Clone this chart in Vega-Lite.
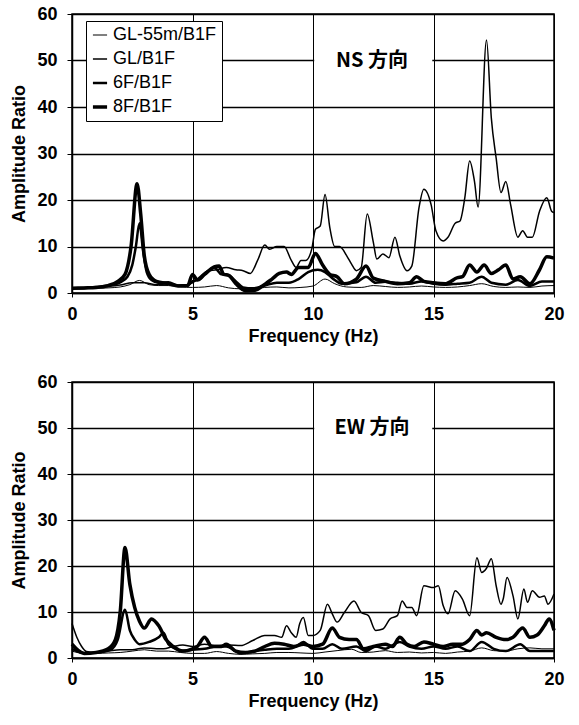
{
  "$schema": "https://vega.github.io/schema/vega-lite/v6.json",
  "background": "white",
  "padding": {"left": 10, "top": 4, "right": 18, "bottom": 5},
  "spacing": 26,
  "config": {
    "view": {"stroke": "black", "strokeWidth": 1.5},
    "font": "Liberation Sans",
    "axis": {
      "domainColor": "black", "domainWidth": 1.5, "tickColor": "black", "gridColor": "black", "gridOpacity": 1,
      "labelFont": "Liberation Sans", "labelFontSize": 18, "labelFontWeight": "bold", "labelColor": "black",
      "titleFont": "Liberation Sans", "titleFontSize": 18, "titleFontWeight": "bold", "titleColor": "black"
    },
    "legend": {
      "orient": "none", "legendX": 14, "legendY": 7, "title": null,
      "strokeColor": "black", "fillColor": "white", "padding": 5, "cornerRadius": 0,
      "labelFont": "Liberation Sans", "labelFontSize": 18, "labelColor": "black", "labelFontWeight": "normal",
      "symbolType": "stroke", "symbolSize": 200, "symbolStrokeColor": "black", "rowPadding": 6, "labelOffset": 4
    }
  },
  "datasets": {
    "ns": [
      {"s":"GL-55m/B1F","f":0,"a":0.8},{"s":"GL-55m/B1F","f":0.5,"a":0.9},{"s":"GL-55m/B1F","f":1,"a":1},{"s":"GL-55m/B1F","f":1.5,"a":1.1},{"s":"GL-55m/B1F","f":2,"a":1.3},{"s":"GL-55m/B1F","f":2.4,"a":1.8},{"s":"GL-55m/B1F","f":2.8,"a":2.7},{"s":"GL-55m/B1F","f":3.2,"a":1.8},{"s":"GL-55m/B1F","f":3.6,"a":1.6},{"s":"GL-55m/B1F","f":4,"a":1.6},{"s":"GL-55m/B1F","f":4.5,"a":1.3},{"s":"GL-55m/B1F","f":5,"a":1.2},{"s":"GL-55m/B1F","f":5.5,"a":1.3},{"s":"GL-55m/B1F","f":6,"a":1.6},{"s":"GL-55m/B1F","f":6.5,"a":1.1},{"s":"GL-55m/B1F","f":7,"a":0.9},{"s":"GL-55m/B1F","f":7.5,"a":0.9},{"s":"GL-55m/B1F","f":8,"a":1.2},{"s":"GL-55m/B1F","f":8.5,"a":1.3},{"s":"GL-55m/B1F","f":9,"a":1.1},{"s":"GL-55m/B1F","f":9.5,"a":1.2},{"s":"GL-55m/B1F","f":10,"a":1.5},{"s":"GL-55m/B1F","f":10.5,"a":3},{"s":"GL-55m/B1F","f":10.9,"a":2},{"s":"GL-55m/B1F","f":11.4,"a":1.3},{"s":"GL-55m/B1F","f":12,"a":1.2},{"s":"GL-55m/B1F","f":12.5,"a":1.6},{"s":"GL-55m/B1F","f":13,"a":1.4},{"s":"GL-55m/B1F","f":13.5,"a":1.2},{"s":"GL-55m/B1F","f":14,"a":1.3},{"s":"GL-55m/B1F","f":14.5,"a":1.5},{"s":"GL-55m/B1F","f":15,"a":1.3},{"s":"GL-55m/B1F","f":15.5,"a":1.2},{"s":"GL-55m/B1F","f":16,"a":1.3},{"s":"GL-55m/B1F","f":16.5,"a":1.6},{"s":"GL-55m/B1F","f":17,"a":2},{"s":"GL-55m/B1F","f":17.5,"a":1.4},{"s":"GL-55m/B1F","f":18,"a":1.2},{"s":"GL-55m/B1F","f":18.5,"a":1.3},{"s":"GL-55m/B1F","f":19,"a":1.2},{"s":"GL-55m/B1F","f":19.5,"a":1.5},{"s":"GL-55m/B1F","f":20,"a":1.6},

      {"s":"GL/B1F","f":0,"a":1},{"s":"GL/B1F","f":0.5,"a":1.1},{"s":"GL/B1F","f":1,"a":1.2},{"s":"GL/B1F","f":1.5,"a":1.4},{"s":"GL/B1F","f":2,"a":1.7},{"s":"GL/B1F","f":2.5,"a":2.2},{"s":"GL/B1F","f":3,"a":2.2},{"s":"GL/B1F","f":3.5,"a":1.8},{"s":"GL/B1F","f":4,"a":2},{"s":"GL/B1F","f":4.5,"a":1.6},{"s":"GL/B1F","f":5,"a":2.2},{"s":"GL/B1F","f":5.3,"a":3.5},{"s":"GL/B1F","f":5.6,"a":4.7},{"s":"GL/B1F","f":6,"a":5},{"s":"GL/B1F","f":6.4,"a":5.5},{"s":"GL/B1F","f":6.8,"a":5},{"s":"GL/B1F","f":7.1,"a":4.8},{"s":"GL/B1F","f":7.4,"a":4.2},{"s":"GL/B1F","f":7.7,"a":7},{"s":"GL/B1F","f":8,"a":10.3},{"s":"GL/B1F","f":8.2,"a":9.4},{"s":"GL/B1F","f":8.5,"a":10},{"s":"GL/B1F","f":8.8,"a":10},{"s":"GL/B1F","f":9.1,"a":7},{"s":"GL/B1F","f":9.3,"a":5.5},{"s":"GL/B1F","f":9.5,"a":7},{"s":"GL/B1F","f":9.7,"a":7},{"s":"GL/B1F","f":9.95,"a":9.5},{"s":"GL/B1F","f":10.1,"a":13.7},{"s":"GL/B1F","f":10.3,"a":14.4},{"s":"GL/B1F","f":10.5,"a":21.2},{"s":"GL/B1F","f":10.7,"a":14},{"s":"GL/B1F","f":10.9,"a":10},{"s":"GL/B1F","f":11.1,"a":10},{"s":"GL/B1F","f":11.4,"a":8},{"s":"GL/B1F","f":11.6,"a":6.2},{"s":"GL/B1F","f":11.8,"a":4.8},{"s":"GL/B1F","f":12,"a":5.5},{"s":"GL/B1F","f":12.25,"a":17},{"s":"GL/B1F","f":12.5,"a":11},{"s":"GL/B1F","f":12.65,"a":7.3},{"s":"GL/B1F","f":12.9,"a":8.4},{"s":"GL/B1F","f":13.15,"a":7.6},{"s":"GL/B1F","f":13.4,"a":12},{"s":"GL/B1F","f":13.6,"a":8},{"s":"GL/B1F","f":13.9,"a":4.8},{"s":"GL/B1F","f":14.1,"a":5.8},{"s":"GL/B1F","f":14.4,"a":18.4},{"s":"GL/B1F","f":14.6,"a":22.3},{"s":"GL/B1F","f":14.9,"a":19},{"s":"GL/B1F","f":15.1,"a":13.4},{"s":"GL/B1F","f":15.4,"a":11.2},{"s":"GL/B1F","f":15.6,"a":12},{"s":"GL/B1F","f":15.9,"a":15},{"s":"GL/B1F","f":16.1,"a":15.5},{"s":"GL/B1F","f":16.3,"a":20.5},{"s":"GL/B1F","f":16.5,"a":28.4},{"s":"GL/B1F","f":16.7,"a":24},{"s":"GL/B1F","f":16.85,"a":18.5},{"s":"GL/B1F","f":17.2,"a":54.4},{"s":"GL/B1F","f":17.4,"a":37.6},{"s":"GL/B1F","f":17.6,"a":29},{"s":"GL/B1F","f":17.8,"a":21.6},{"s":"GL/B1F","f":18,"a":24},{"s":"GL/B1F","f":18.2,"a":19},{"s":"GL/B1F","f":18.5,"a":12},{"s":"GL/B1F","f":18.7,"a":13.4},{"s":"GL/B1F","f":18.9,"a":12},{"s":"GL/B1F","f":19.1,"a":12},{"s":"GL/B1F","f":19.4,"a":17.6},{"s":"GL/B1F","f":19.7,"a":20.5},{"s":"GL/B1F","f":19.9,"a":17.6},{"s":"GL/B1F","f":20,"a":17.3},

      {"s":"6F/B1F","f":0,"a":1},{"s":"6F/B1F","f":0.5,"a":1.1},{"s":"6F/B1F","f":1,"a":1.3},{"s":"6F/B1F","f":1.5,"a":1.6},{"s":"6F/B1F","f":2,"a":2.3},{"s":"6F/B1F","f":2.3,"a":3.5},{"s":"6F/B1F","f":2.5,"a":6},{"s":"6F/B1F","f":2.65,"a":10},{"s":"6F/B1F","f":2.8,"a":15},{"s":"6F/B1F","f":2.95,"a":9},{"s":"6F/B1F","f":3.1,"a":4.5},{"s":"6F/B1F","f":3.3,"a":2.8},{"s":"6F/B1F","f":3.6,"a":2.2},{"s":"6F/B1F","f":4,"a":2.3},{"s":"6F/B1F","f":4.4,"a":1.6},{"s":"6F/B1F","f":4.8,"a":1.6},{"s":"6F/B1F","f":5,"a":2.5},{"s":"6F/B1F","f":5.3,"a":3},{"s":"6F/B1F","f":5.6,"a":4.5},{"s":"6F/B1F","f":5.9,"a":5.5},{"s":"6F/B1F","f":6.2,"a":4},{"s":"6F/B1F","f":6.5,"a":3.8},{"s":"6F/B1F","f":6.8,"a":2.5},{"s":"6F/B1F","f":7.1,"a":1.2},{"s":"6F/B1F","f":7.5,"a":1},{"s":"6F/B1F","f":8,"a":1.6},{"s":"6F/B1F","f":8.5,"a":2.2},{"s":"6F/B1F","f":9,"a":2.2},{"s":"6F/B1F","f":9.4,"a":3},{"s":"6F/B1F","f":9.8,"a":4.5},{"s":"6F/B1F","f":10.2,"a":5},{"s":"6F/B1F","f":10.5,"a":4.5},{"s":"6F/B1F","f":10.8,"a":3.2},{"s":"6F/B1F","f":11.2,"a":2},{"s":"6F/B1F","f":11.8,"a":2.3},{"s":"6F/B1F","f":12.2,"a":3.5},{"s":"6F/B1F","f":12.6,"a":2.2},{"s":"6F/B1F","f":13,"a":2.4},{"s":"6F/B1F","f":13.5,"a":2.2},{"s":"6F/B1F","f":14,"a":2},{"s":"6F/B1F","f":14.5,"a":2.5},{"s":"6F/B1F","f":15,"a":2},{"s":"6F/B1F","f":15.5,"a":1.8},{"s":"6F/B1F","f":16,"a":2},{"s":"6F/B1F","f":16.5,"a":2.2},{"s":"6F/B1F","f":17,"a":3.5},{"s":"6F/B1F","f":17.4,"a":2.2},{"s":"6F/B1F","f":18,"a":1.8},{"s":"6F/B1F","f":18.5,"a":2.8},{"s":"6F/B1F","f":19,"a":1.5},{"s":"6F/B1F","f":19.5,"a":2.5},{"s":"6F/B1F","f":20,"a":2.5},

      {"s":"8F/B1F","f":0,"a":1},{"s":"8F/B1F","f":0.5,"a":1.1},{"s":"8F/B1F","f":1,"a":1.2},{"s":"8F/B1F","f":1.5,"a":1.6},{"s":"8F/B1F","f":1.9,"a":2.5},{"s":"8F/B1F","f":2.2,"a":4},{"s":"8F/B1F","f":2.45,"a":10},{"s":"8F/B1F","f":2.7,"a":23.5},{"s":"8F/B1F","f":2.85,"a":17},{"s":"8F/B1F","f":3,"a":8},{"s":"8F/B1F","f":3.2,"a":4},{"s":"8F/B1F","f":3.5,"a":2.5},{"s":"8F/B1F","f":4,"a":2},{"s":"8F/B1F","f":4.4,"a":1.5},{"s":"8F/B1F","f":4.8,"a":1.6},{"s":"8F/B1F","f":5,"a":4},{"s":"8F/B1F","f":5.2,"a":2.8},{"s":"8F/B1F","f":5.5,"a":4},{"s":"8F/B1F","f":5.9,"a":5.6},{"s":"8F/B1F","f":6.1,"a":5.8},{"s":"8F/B1F","f":6.3,"a":4},{"s":"8F/B1F","f":6.5,"a":3.8},{"s":"8F/B1F","f":6.8,"a":2},{"s":"8F/B1F","f":7.2,"a":0.5},{"s":"8F/B1F","f":7.6,"a":0.6},{"s":"8F/B1F","f":7.9,"a":1.5},{"s":"8F/B1F","f":8.3,"a":3},{"s":"8F/B1F","f":8.6,"a":4.2},{"s":"8F/B1F","f":8.9,"a":4.5},{"s":"8F/B1F","f":9.1,"a":4},{"s":"8F/B1F","f":9.4,"a":5.5},{"s":"8F/B1F","f":9.8,"a":5.5},{"s":"8F/B1F","f":10.1,"a":8.5},{"s":"8F/B1F","f":10.4,"a":6},{"s":"8F/B1F","f":10.7,"a":4},{"s":"8F/B1F","f":11,"a":3.5},{"s":"8F/B1F","f":11.3,"a":2},{"s":"8F/B1F","f":11.8,"a":3},{"s":"8F/B1F","f":12.2,"a":5.8},{"s":"8F/B1F","f":12.5,"a":3.2},{"s":"8F/B1F","f":13,"a":2.5},{"s":"8F/B1F","f":13.5,"a":2},{"s":"8F/B1F","f":14,"a":2.2},{"s":"8F/B1F","f":14.3,"a":3.5},{"s":"8F/B1F","f":14.6,"a":2.5},{"s":"8F/B1F","f":15,"a":2.2},{"s":"8F/B1F","f":15.5,"a":2},{"s":"8F/B1F","f":16,"a":3.3},{"s":"8F/B1F","f":16.2,"a":3.5},{"s":"8F/B1F","f":16.5,"a":6},{"s":"8F/B1F","f":16.8,"a":4.5},{"s":"8F/B1F","f":17.1,"a":6},{"s":"8F/B1F","f":17.4,"a":4.2},{"s":"8F/B1F","f":17.7,"a":5},{"s":"8F/B1F","f":18,"a":6},{"s":"8F/B1F","f":18.3,"a":3},{"s":"8F/B1F","f":18.6,"a":3.5},{"s":"8F/B1F","f":19,"a":2},{"s":"8F/B1F","f":19.4,"a":5},{"s":"8F/B1F","f":19.7,"a":7.8},{"s":"8F/B1F","f":20,"a":7.5}
    ],
    "ew": [
      {"s":"GL-55m/B1F","f":0,"a":1.5},{"s":"GL-55m/B1F","f":0.5,"a":1},{"s":"GL-55m/B1F","f":1,"a":1},{"s":"GL-55m/B1F","f":1.5,"a":1.1},{"s":"GL-55m/B1F","f":2,"a":1.2},{"s":"GL-55m/B1F","f":2.5,"a":1.5},{"s":"GL-55m/B1F","f":3,"a":1.8},{"s":"GL-55m/B1F","f":3.5,"a":1.5},{"s":"GL-55m/B1F","f":4,"a":1.5},{"s":"GL-55m/B1F","f":4.5,"a":1.2},{"s":"GL-55m/B1F","f":5,"a":1},{"s":"GL-55m/B1F","f":5.5,"a":1},{"s":"GL-55m/B1F","f":6,"a":1.4},{"s":"GL-55m/B1F","f":6.5,"a":1},{"s":"GL-55m/B1F","f":7,"a":0.8},{"s":"GL-55m/B1F","f":7.5,"a":0.9},{"s":"GL-55m/B1F","f":8,"a":1},{"s":"GL-55m/B1F","f":8.5,"a":1.2},{"s":"GL-55m/B1F","f":9,"a":1.2},{"s":"GL-55m/B1F","f":9.5,"a":1.1},{"s":"GL-55m/B1F","f":10,"a":1},{"s":"GL-55m/B1F","f":10.5,"a":1.3},{"s":"GL-55m/B1F","f":11,"a":1.6},{"s":"GL-55m/B1F","f":11.6,"a":1.9},{"s":"GL-55m/B1F","f":12,"a":1.2},{"s":"GL-55m/B1F","f":12.5,"a":1.3},{"s":"GL-55m/B1F","f":13,"a":1.6},{"s":"GL-55m/B1F","f":13.5,"a":1.2},{"s":"GL-55m/B1F","f":14,"a":1.3},{"s":"GL-55m/B1F","f":14.5,"a":1.1},{"s":"GL-55m/B1F","f":15,"a":1.2},{"s":"GL-55m/B1F","f":15.5,"a":1},{"s":"GL-55m/B1F","f":16,"a":1.3},{"s":"GL-55m/B1F","f":16.5,"a":1.5},{"s":"GL-55m/B1F","f":17,"a":2.2},{"s":"GL-55m/B1F","f":17.5,"a":1.6},{"s":"GL-55m/B1F","f":18,"a":1.5},{"s":"GL-55m/B1F","f":18.5,"a":2},{"s":"GL-55m/B1F","f":19,"a":2.2},{"s":"GL-55m/B1F","f":19.5,"a":2},{"s":"GL-55m/B1F","f":20,"a":2},

      {"s":"GL/B1F","f":0,"a":7.5},{"s":"GL/B1F","f":0.2,"a":4.5},{"s":"GL/B1F","f":0.4,"a":2.5},{"s":"GL/B1F","f":0.6,"a":1.4},{"s":"GL/B1F","f":1,"a":1.2},{"s":"GL/B1F","f":1.5,"a":1.5},{"s":"GL/B1F","f":2,"a":1.8},{"s":"GL/B1F","f":2.5,"a":1.8},{"s":"GL/B1F","f":3,"a":2.2},{"s":"GL/B1F","f":3.5,"a":2},{"s":"GL/B1F","f":3.8,"a":2},{"s":"GL/B1F","f":4.2,"a":2.5},{"s":"GL/B1F","f":4.6,"a":2.8},{"s":"GL/B1F","f":5,"a":2.5},{"s":"GL/B1F","f":5.5,"a":3},{"s":"GL/B1F","f":6,"a":2.7},{"s":"GL/B1F","f":6.5,"a":2.8},{"s":"GL/B1F","f":7,"a":2.7},{"s":"GL/B1F","f":7.5,"a":3.8},{"s":"GL/B1F","f":8,"a":4.9},{"s":"GL/B1F","f":8.4,"a":4.9},{"s":"GL/B1F","f":8.7,"a":4.5},{"s":"GL/B1F","f":8.9,"a":7},{"s":"GL/B1F","f":9.1,"a":5.5},{"s":"GL/B1F","f":9.3,"a":4.5},{"s":"GL/B1F","f":9.45,"a":7.5},{"s":"GL/B1F","f":9.6,"a":8.8},{"s":"GL/B1F","f":9.8,"a":4.9},{"s":"GL/B1F","f":10,"a":4.9},{"s":"GL/B1F","f":10.3,"a":6},{"s":"GL/B1F","f":10.6,"a":11.7},{"s":"GL/B1F","f":10.8,"a":9.6},{"s":"GL/B1F","f":11,"a":7.8},{"s":"GL/B1F","f":11.3,"a":9.9},{"s":"GL/B1F","f":11.7,"a":12.4},{"s":"GL/B1F","f":12,"a":9.9},{"s":"GL/B1F","f":12.3,"a":9.2},{"s":"GL/B1F","f":12.6,"a":6},{"s":"GL/B1F","f":12.9,"a":6.3},{"s":"GL/B1F","f":13.2,"a":8.5},{"s":"GL/B1F","f":13.5,"a":9.2},{"s":"GL/B1F","f":13.7,"a":12.4},{"s":"GL/B1F","f":13.9,"a":11},{"s":"GL/B1F","f":14.1,"a":11},{"s":"GL/B1F","f":14.3,"a":9.2},{"s":"GL/B1F","f":14.6,"a":15.7},{"s":"GL/B1F","f":15,"a":15.3},{"s":"GL/B1F","f":15.2,"a":15.7},{"s":"GL/B1F","f":15.4,"a":11.4},{"s":"GL/B1F","f":15.6,"a":9.6},{"s":"GL/B1F","f":15.9,"a":14.6},{"s":"GL/B1F","f":16.2,"a":12.8},{"s":"GL/B1F","f":16.5,"a":9.2},{"s":"GL/B1F","f":16.8,"a":21.8},{"s":"GL/B1F","f":17,"a":18.6},{"s":"GL/B1F","f":17.2,"a":19.5},{"s":"GL/B1F","f":17.4,"a":21.6},{"s":"GL/B1F","f":17.6,"a":15.7},{"s":"GL/B1F","f":17.8,"a":11.7},{"s":"GL/B1F","f":17.9,"a":13},{"s":"GL/B1F","f":18.05,"a":17.5},{"s":"GL/B1F","f":18.3,"a":13.5},{"s":"GL/B1F","f":18.5,"a":8.5},{"s":"GL/B1F","f":18.75,"a":15},{"s":"GL/B1F","f":18.9,"a":12.1},{"s":"GL/B1F","f":19.1,"a":14.6},{"s":"GL/B1F","f":19.4,"a":13.2},{"s":"GL/B1F","f":19.6,"a":13.5},{"s":"GL/B1F","f":19.75,"a":11.7},{"s":"GL/B1F","f":20,"a":13.9},

      {"s":"6F/B1F","f":0,"a":2},{"s":"6F/B1F","f":0.3,"a":1.3},{"s":"6F/B1F","f":0.6,"a":1},{"s":"6F/B1F","f":1,"a":1.2},{"s":"6F/B1F","f":1.6,"a":1.8},{"s":"6F/B1F","f":1.9,"a":4},{"s":"6F/B1F","f":2.2,"a":10.5},{"s":"6F/B1F","f":2.4,"a":6},{"s":"6F/B1F","f":2.6,"a":4},{"s":"6F/B1F","f":2.8,"a":3},{"s":"6F/B1F","f":3.2,"a":3.5},{"s":"6F/B1F","f":3.6,"a":4.5},{"s":"6F/B1F","f":3.8,"a":5.5},{"s":"6F/B1F","f":4,"a":3},{"s":"6F/B1F","f":4.3,"a":2},{"s":"6F/B1F","f":4.7,"a":1.5},{"s":"6F/B1F","f":5,"a":1.8},{"s":"6F/B1F","f":5.5,"a":2},{"s":"6F/B1F","f":6,"a":2.5},{"s":"6F/B1F","f":6.4,"a":2.5},{"s":"6F/B1F","f":7,"a":1},{"s":"6F/B1F","f":7.5,"a":1.5},{"s":"6F/B1F","f":8,"a":1.8},{"s":"6F/B1F","f":8.5,"a":2},{"s":"6F/B1F","f":9,"a":2},{"s":"6F/B1F","f":9.3,"a":2.5},{"s":"6F/B1F","f":9.6,"a":3.5},{"s":"6F/B1F","f":10,"a":2},{"s":"6F/B1F","f":10.4,"a":2},{"s":"6F/B1F","f":10.8,"a":3},{"s":"6F/B1F","f":11.2,"a":2},{"s":"6F/B1F","f":11.8,"a":2.5},{"s":"6F/B1F","f":12.2,"a":1.5},{"s":"6F/B1F","f":12.6,"a":2.5},{"s":"6F/B1F","f":13,"a":2},{"s":"6F/B1F","f":13.6,"a":3.5},{"s":"6F/B1F","f":14,"a":2.5},{"s":"6F/B1F","f":14.5,"a":2},{"s":"6F/B1F","f":15,"a":2.5},{"s":"6F/B1F","f":15.5,"a":2},{"s":"6F/B1F","f":16,"a":2.5},{"s":"6F/B1F","f":16.5,"a":1.5},{"s":"6F/B1F","f":17,"a":3.5},{"s":"6F/B1F","f":17.5,"a":2},{"s":"6F/B1F","f":18,"a":1.5},{"s":"6F/B1F","f":18.6,"a":3},{"s":"6F/B1F","f":19,"a":1.5},{"s":"6F/B1F","f":19.5,"a":1.5},{"s":"6F/B1F","f":20,"a":1.5},

      {"s":"8F/B1F","f":0,"a":3},{"s":"8F/B1F","f":0.5,"a":1},{"s":"8F/B1F","f":1,"a":1.2},{"s":"8F/B1F","f":1.5,"a":2},{"s":"8F/B1F","f":1.8,"a":4},{"s":"8F/B1F","f":2,"a":10},{"s":"8F/B1F","f":2.2,"a":24},{"s":"8F/B1F","f":2.4,"a":16},{"s":"8F/B1F","f":2.6,"a":11},{"s":"8F/B1F","f":2.8,"a":8},{"s":"8F/B1F","f":3,"a":6.5},{"s":"8F/B1F","f":3.3,"a":8.5},{"s":"8F/B1F","f":3.6,"a":7},{"s":"8F/B1F","f":3.9,"a":4},{"s":"8F/B1F","f":4.2,"a":2.5},{"s":"8F/B1F","f":4.6,"a":1.5},{"s":"8F/B1F","f":5,"a":2},{"s":"8F/B1F","f":5.2,"a":2.5},{"s":"8F/B1F","f":5.5,"a":4.5},{"s":"8F/B1F","f":5.8,"a":2.5},{"s":"8F/B1F","f":6.2,"a":2.5},{"s":"8F/B1F","f":6.4,"a":3},{"s":"8F/B1F","f":6.8,"a":1.5},{"s":"8F/B1F","f":7.2,"a":1.2},{"s":"8F/B1F","f":7.6,"a":1.5},{"s":"8F/B1F","f":8,"a":2.5},{"s":"8F/B1F","f":8.4,"a":3.2},{"s":"8F/B1F","f":8.8,"a":3},{"s":"8F/B1F","f":9.2,"a":2.5},{"s":"8F/B1F","f":9.6,"a":3},{"s":"8F/B1F","f":10,"a":2.5},{"s":"8F/B1F","f":10.4,"a":3},{"s":"8F/B1F","f":10.8,"a":6.5},{"s":"8F/B1F","f":11.1,"a":4.5},{"s":"8F/B1F","f":11.5,"a":4},{"s":"8F/B1F","f":11.8,"a":4},{"s":"8F/B1F","f":12.1,"a":2},{"s":"8F/B1F","f":12.5,"a":2.5},{"s":"8F/B1F","f":13,"a":3},{"s":"8F/B1F","f":13.3,"a":2.5},{"s":"8F/B1F","f":13.6,"a":4.5},{"s":"8F/B1F","f":13.9,"a":3},{"s":"8F/B1F","f":14.2,"a":2.5},{"s":"8F/B1F","f":14.6,"a":3.5},{"s":"8F/B1F","f":15,"a":3},{"s":"8F/B1F","f":15.4,"a":2.5},{"s":"8F/B1F","f":15.8,"a":3},{"s":"8F/B1F","f":16.2,"a":3},{"s":"8F/B1F","f":16.5,"a":4},{"s":"8F/B1F","f":16.8,"a":6},{"s":"8F/B1F","f":17,"a":5},{"s":"8F/B1F","f":17.2,"a":5.5},{"s":"8F/B1F","f":17.6,"a":4.5},{"s":"8F/B1F","f":18,"a":4},{"s":"8F/B1F","f":18.3,"a":4.5},{"s":"8F/B1F","f":18.7,"a":6.5},{"s":"8F/B1F","f":19,"a":4.5},{"s":"8F/B1F","f":19.3,"a":5},{"s":"8F/B1F","f":19.6,"a":7},{"s":"8F/B1F","f":19.8,"a":8.5},{"s":"8F/B1F","f":20,"a":6}
    ]
  },
  "vconcat": [
    {
      "width": 482, "height": 279,
      "layer": [
        {
          "data": {"values": [{"f": 10.05, "f2": 14.95, "a": 46, "a2": 54}]},
          "mark": {"type": "rect", "fill": "white"},
          "encoding": {
            "x": {"field": "f", "type": "quantitative", "scale": {"domain": [0, 20]}, "axis": {"title": "Frequency (Hz)", "values": [0,5,10,15,20], "gridWidth": 1, "tickSize": 4, "labelPadding": 8, "titlePadding": 4, "labelFlush": false}},
            "x2": {"field": "f2"},
            "y": {"field": "a", "type": "quantitative", "scale": {"domain": [0, 60]}, "axis": {"title": "Amplitude Ratio", "values": [0,10,20,30,40,50,60], "gridWidth": 1.5, "tickSize": 5, "labelPadding": 10, "titlePadding": 8}},
            "y2": {"field": "a2"}
          }
        },
        {
          "data": {"name": "ns"},
          "mark": {"type": "line", "interpolate": "monotone", "color": "black"},
          "encoding": {
            "x": {"field": "f", "type": "quantitative"},
            "y": {"field": "a", "type": "quantitative"},
            "strokeWidth": {"field": "s", "type": "nominal", "scale": {"type": "ordinal", "domain": ["GL-55m/B1F", "GL/B1F", "6F/B1F", "8F/B1F"], "range": [1, 1.5, 2.5, 3.5]}, "legend": {"legendX": 14, "legendY": 7}}
          }
        },
        {
          "data": {"values": [{"f": 12.45, "a": 50, "t": "NS 方向"}]},
          "mark": {"type": "text", "font": "Noto Sans CJK JP", "fontSize": 20, "fontWeight": "bold", "color": "black"},
          "encoding": {
            "x": {"field": "f", "type": "quantitative"},
            "y": {"field": "a", "type": "quantitative"},
            "text": {"field": "t"}
          }
        }
      ]
    },
    {
      "width": 482, "height": 276,
      "layer": [
        {
          "data": {"values": [{"f": 10.05, "f2": 14.95, "a": 46, "a2": 54}]},
          "mark": {"type": "rect", "fill": "white"},
          "encoding": {
            "x": {"field": "f", "type": "quantitative", "scale": {"domain": [0, 20]}, "axis": {"title": "Frequency (Hz)", "values": [0,5,10,15,20], "gridWidth": 1, "tickSize": 4, "labelPadding": 8, "titlePadding": 4, "labelFlush": false}},
            "x2": {"field": "f2"},
            "y": {"field": "a", "type": "quantitative", "scale": {"domain": [0, 60]}, "axis": {"title": "Amplitude Ratio", "values": [0,10,20,30,40,50,60], "gridWidth": 1.5, "tickSize": 5, "labelPadding": 10, "titlePadding": 8}},
            "y2": {"field": "a2"}
          }
        },
        {
          "data": {"name": "ew"},
          "mark": {"type": "line", "interpolate": "monotone", "color": "black"},
          "encoding": {
            "x": {"field": "f", "type": "quantitative"},
            "y": {"field": "a", "type": "quantitative"},
            "strokeWidth": {"field": "s", "type": "nominal", "scale": {"type": "ordinal", "domain": ["GL-55m/B1F", "GL/B1F", "6F/B1F", "8F/B1F"], "range": [1, 1.5, 2.5, 3.5]}, "legend": {"legendX": 11, "legendY": 9}}
          }
        },
        {
          "data": {"values": [{"f": 12.45, "a": 50, "t": "EW 方向"}]},
          "mark": {"type": "text", "font": "Noto Sans CJK JP", "fontSize": 20, "fontWeight": "bold", "color": "black"},
          "encoding": {
            "x": {"field": "f", "type": "quantitative"},
            "y": {"field": "a", "type": "quantitative"},
            "text": {"field": "t"}
          }
        }
      ]
    }
  ]
}
